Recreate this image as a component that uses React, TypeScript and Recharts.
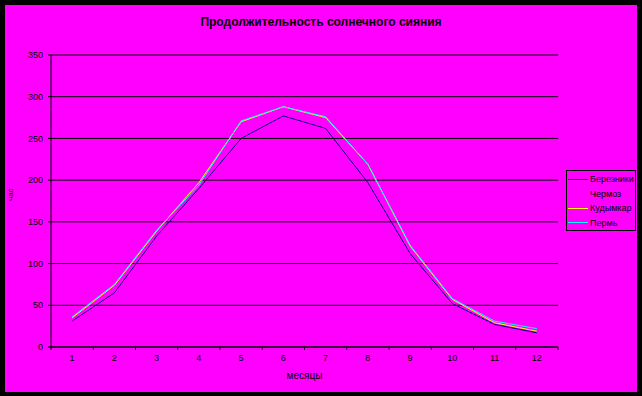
import React from 'react';
import { LineChart, Line, XAxis, YAxis, CartesianGrid, Label } from 'recharts';

const months = [1, 2, 3, 4, 5, 6, 7, 8, 9, 10, 11, 12];
const berezniki = [31, 65, 133, 190, 250, 277, 262, 197, 112, 52, 27, 17];
const chermoz = [34, 73, 138, 196, 268, 287, 274, 217, 120, 57, 29, 20];
const kudymkar = [35, 74, 139, 197, 270, 288, 275, 219, 121, 57, 29, 19];
const perm = [36, 75, 140, 194, 271, 288, 276, 219, 122, 58, 31, 22];
const yTicks = [0, 50, 100, 150, 200, 250, 300, 350];
const xTicks = [0.5, 1.5, 2.5, 3.5, 4.5, 5.5, 6.5, 7.5, 8.5, 9.5, 10.5, 11.5, 12.5];

const series = [
  { key: 'Березники', values: berezniki, color: '#000080' },
  { key: 'Чермоз', values: chermoz, color: '#FF00FF' },
  { key: 'Кудымкар', values: kudymkar, color: '#FFFF00' },
  { key: 'Пермь', values: perm, color: '#00FFFF' },
];

const data = months.map((m, i) => {
  const row: Record<string, number> = { month: m };
  series.forEach(s => { row[s.key] = s.values[i]; });
  return row;
});

const FONT = '"Liberation Sans", Arial, sans-serif';
const W = 642;
const H = 396;
const PLOT_LEFT = 51;
const PLOT_RIGHT = 558;
const HALF_BAND = (PLOT_RIGHT - PLOT_LEFT) / 24;

// labels sit in the middle of each category, tick marks between categories
const MonthTick = (props: any) => {
  const { x, y, payload } = props;
  const v = payload.value + 0.5;
  if (v > 12) return null;
  return (
    <text x={x + HALF_BAND} y={y} dy={9} textAnchor="middle" fontSize={9} fill="#000" fontFamily={FONT}>
      {v}
    </text>
  );
};

const ChartLegend = () => (
  <div style={{ position: 'absolute', left: 566, top: 170, width: 70, height: 61, border: '1px solid #000', boxSizing: 'border-box', fontFamily: FONT, fontSize: 9, color: '#000', paddingTop: 1 }}>
    {series.map(s => (
      <div key={s.key} style={{ display: 'flex', alignItems: 'center', height: 14.5, whiteSpace: 'nowrap' }}>
        <span style={{ display: 'inline-block', width: 20, height: 1, background: s.color, marginLeft: 1, marginRight: 2 }} />
        <span>{s.key}</span>
      </div>
    ))}
  </div>
);

export default function App() {
  return (
    <div style={{ position: 'fixed', left: 0, top: 0, width: W, height: H, background: '#000' }}>
      <div style={{ position: 'absolute', left: 5, top: 5, width: 632, height: 387, background: '#FF00FF' }} />
      <div style={{ position: 'absolute', left: 0, top: 15, width: W, textAlign: 'center', fontFamily: FONT, fontWeight: 'bold', fontSize: 12, color: '#000' }}>
        Продолжительность солнечного сияния
      </div>
      <div style={{ position: 'absolute', left: 0, top: 0 }}>
        <LineChart width={W} height={H} data={data} margin={{ top: 55, right: W - PLOT_RIGHT, bottom: 29, left: 0 }}>
          <CartesianGrid horizontal vertical={false} stroke="#000" strokeWidth={1} />
          <XAxis
            dataKey="month"
            type="number"
            domain={[0.5, 12.5]}
            ticks={xTicks}
            interval={0}
            height={20}
            tickSize={3}
            tickMargin={2}
            stroke="#000"
            tick={<MonthTick />}
          >
            <Label value="месяцы" position="bottom" offset={5} fontSize={10} fill="#000" fontFamily={FONT} />
          </XAxis>
          <YAxis
            domain={[0, 350]}
            ticks={yTicks}
            interval={0}
            width={PLOT_LEFT}
            tickSize={3}
            tickMargin={5}
            stroke="#000"
            tick={{ fontSize: 9, fill: '#000', fontFamily: FONT }}
          >
            <Label value="час" angle={-90} position="insideLeft" offset={10} fontSize={8} fill="#000" fontFamily={FONT} />
          </YAxis>
          <YAxis yAxisId="r" orientation="right" width={0} tick={false} tickLine={false} stroke="#000" domain={[0, 350]} />
          {series.map(s => (
            <Line
              key={s.key}
              dataKey={s.key}
              stroke={s.color}
              strokeWidth={1}
              dot={false}
              activeDot={false}
              isAnimationActive={false}
              type="linear"
            />
          ))}
        </LineChart>
      </div>
      <ChartLegend />
    </div>
  );
}
